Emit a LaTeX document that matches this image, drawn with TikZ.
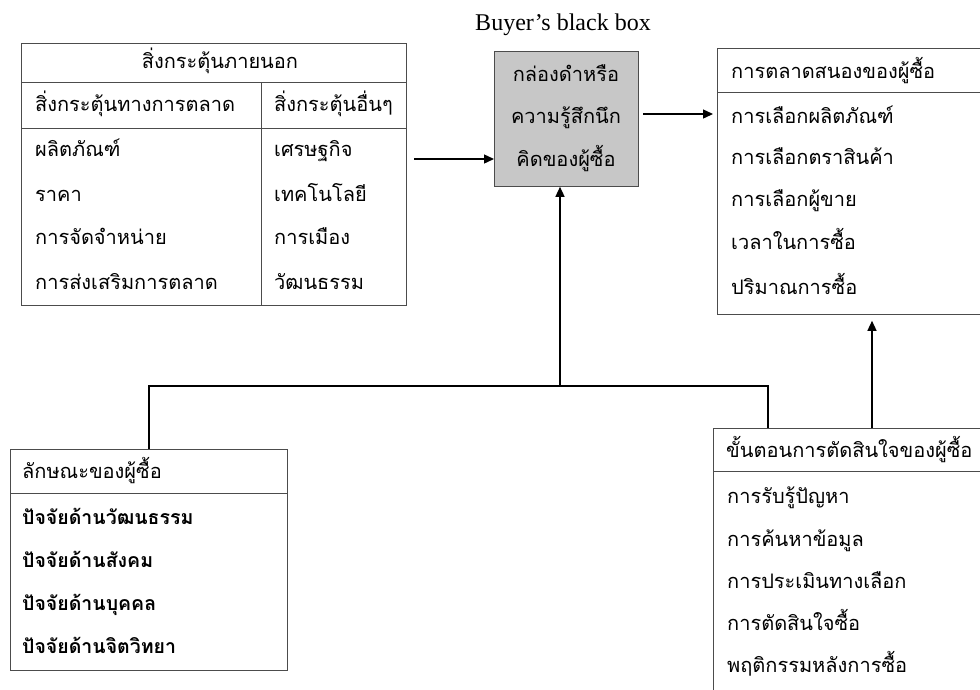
\documentclass[tikz,border=0pt]{standalone}
\usepackage{fontspec}
\setmainfont{Liberation Serif}
\newfontfamily\thai[Script=Thai]{Loma}
\usetikzlibrary{arrows.meta}
\begin{document}
\begin{tikzpicture}[x=1pt,y=-1pt,
  box/.style={draw=black!70, line width=0.8pt, inner sep=0, anchor=north west},
  rule/.style={draw=black!70, line width=0.8pt},
  tx/.style={anchor=base west, inner sep=0, font=\thai\fontsize{20}{22}\selectfont},
  txc/.style={tx, anchor=base},
  txb/.style={tx, font=\thai\bfseries\fontsize{19.5}{22}\selectfont},
  conn/.style={line width=1.4pt, black},
  arr/.style={conn, -{Triangle[length=10pt,width=9pt]}}]
\useasboundingbox (0,0) rectangle (980,689);
\clip (0,0) rectangle (980,689);
% ---------- left top table
\node[box, minimum width=385pt, minimum height=262pt] (lt) at (21,43) {};
\draw[rule] (21,82) -- (406,82);
\draw[rule] (21,128) -- (406,128);
\draw[rule] (261,82) -- (261,305);
\node[txc] (lth) at (220,68) {สิ่งกระตุ้นภายนอก};
\node[tx] (lt1) at (35,111) {สิ่งกระตุ้นทางการตลาด};
\node[tx] (lt2) at (274,111) {สิ่งกระตุ้นอื่นๆ};
\node[tx] (la1) at (35,156) {ผลิตภัณฑ์};
\node[tx] (la2) at (35,201) {ราคา};
\node[tx] (la3) at (35,244) {การจัดจำหน่าย};
\node[tx] (la4) at (35,289) {การส่งเสริมการตลาด};
\node[tx] (lb1) at (274,156) {เศรษฐกิจ};
\node[tx] (lb2) at (274,201) {เทคโนโลยี};
\node[tx] (lb3) at (274,244) {การเมือง};
\node[tx] (lb4) at (274,289) {วัฒนธรรม};
% ---------- black box
\node[anchor=center, inner sep=0, font=\fontsize{24}{26}\selectfont] (bbt) at (563,25) {Buyer’s black box};
\node[box, fill=black!22, minimum width=144pt, minimum height=135pt] (bb) at (494,51) {};
\node[txc] (bb1) at (566,81) {กล่องดำหรือ};
\node[txc] (bb2) at (566,123) {ความรู้สึกนึก};
\node[txc] (bb3) at (566,166) {คิดของผู้ซื้อ};
% ---------- right top table
\node[box, minimum width=270pt, minimum height=266pt] (rt) at (717,48) {};
\draw[rule] (717,92) -- (990,92);
\node[tx] (rth) at (731,78) {การตลาดสนองของผู้ซื้อ};
\node[tx] (rt1) at (731,123) {การเลือกผลิตภัณฑ์};
\node[tx] (rt2) at (731,164) {การเลือกตราสินค้า};
\node[tx] (rt3) at (731,206) {การเลือกผู้ขาย};
\node[tx] (rt4) at (731,249) {เวลาในการซื้อ};
\node[tx] (rt5) at (731,294) {ปริมาณการซื้อ};
% ---------- left bottom box
\node[box, minimum width=277pt, minimum height=221pt] (lbx) at (10,449) {};
\draw[rule] (10,493) -- (287,493);
\node[tx] (lbh) at (22,478) {ลักษณะของผู้ซื้อ};
\node[txb] (lbr1) at (22,524) {ปัจจัยด้านวัฒนธรรม};
\node[txb] (lbr2) at (22,567) {ปัจจัยด้านสังคม};
\node[txb] (lbr3) at (22,610) {ปัจจัยด้านบุคคล};
\node[txb] (lbr4) at (22,653) {ปัจจัยด้านจิตวิทยา};
% ---------- right bottom box
\node[box, minimum width=280pt, minimum height=280pt] (rbx) at (713,428) {};
\draw[rule] (713,471) -- (995,471);
\node[tx] (rbh) at (726,457) {ขั้นตอนการตัดสินใจของผู้ซื้อ};
\node[tx] (rb1) at (727,503) {การรับรู้ปัญหา};
\node[tx] (rb2) at (727,546) {การค้นหาข้อมูล};
\node[tx] (rb3) at (727,588) {การประเมินทางเลือก};
\node[tx] (rb4) at (727,630) {การตัดสินใจซื้อ};
\node[tx] (rb5) at (727,672) {พฤติกรรมหลังการซื้อ};
% ---------- connectors
\coordinate (a1) at (414,159);
\draw[arr] (a1) -- (a1 -| bb.west);
\coordinate (a2) at (643,114);
\draw[arr] (a2) -- ([xshift=-4pt]a2 -| rt.west);
\coordinate (j) at (560,386);
\coordinate (rtap) at (768,0);
\draw[conn] (lbx.north) |- (j) -| (rtap |- rbx.north);
\draw[arr] (j) -- (j |- bb.south);
\coordinate (rup) at (872,0);
\draw[arr] (rup |- rbx.north) -- ([yshift=-6pt]rup |- rt.south);
\end{tikzpicture}
\end{document}
